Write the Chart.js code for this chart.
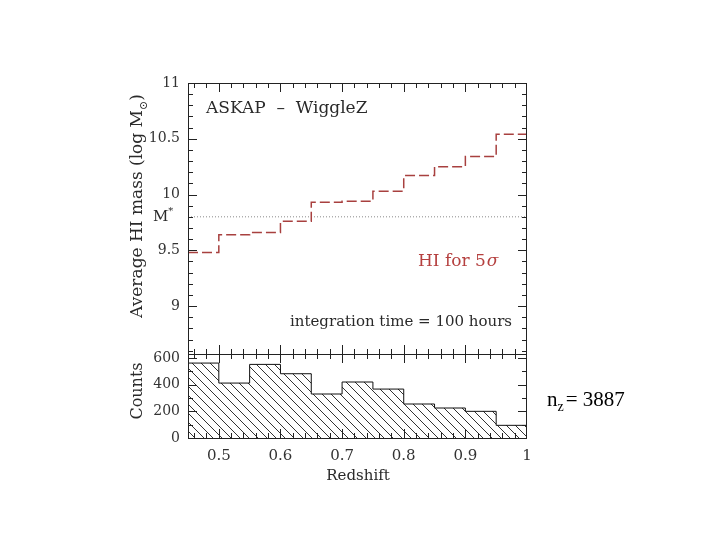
<!DOCTYPE html>
<html>
<head>
<meta charset="utf-8">
<script src="https://cdn.jsdelivr.net/npm/chart.js@4.4.1/dist/chart.umd.min.js"></script>
<style>
  body { margin: 0; background: #fff; }
  #wrap { position: relative; width: 720px; height: 540px; }
  #wrap canvas { position: absolute; left: 0; top: 0; }
</style>
</head>
<body>
<div id="wrap">
  <canvas id="massChart" width="720" height="540"></canvas>
  <canvas id="countChart" width="720" height="540"></canvas>
</div>
<script>
// redshift bin edges (11 bins of 0.05)
const binEdges = [0.45, 0.50, 0.55, 0.60, 0.65, 0.70, 0.75, 0.80, 0.85, 0.90, 0.95, 1.00];
// average HI mass detectable at 5 sigma, per bin (log Msun)
const hiMass = [9.48, 9.64, 9.66, 9.76, 9.93, 9.94, 10.03, 10.17, 10.25, 10.34, 10.54];
// galaxy counts per bin
const counts = [562, 412, 552, 482, 330, 420, 367, 255, 225, 200, 95];
const mStar = 9.8;
const massTicks = [9, 9.5, 10, 10.5, 11];
const countTicks = [0, 200, 400, 600];
const zTicks = [0.5, 0.6, 0.7, 0.8, 0.9, 1];

const SERIF = '"DejaVu Serif", serif';
const INK = '#2a2a2a';

// histogram steps: point i is the left edge of bin i, last edge closes the final bin
function stepPoints(values) {
    return binEdges.map((x, i) => ({ x: x, y: values[Math.min(i, values.length - 1)] }));
}

function makeHatch(ctx) {
    const s = 9;
    const c = document.createElement('canvas');
    c.width = s; c.height = s;
    const g = c.getContext('2d');
    g.strokeStyle = '#333';
    g.lineWidth = 1;
    g.beginPath();
    g.moveTo(-1, -1); g.lineTo(s + 1, s + 1);
    g.moveTo(-2, s - 2); g.lineTo(2, s + 2);
    g.moveTo(s - 2, -2); g.lineTo(s + 2, 2);
    g.stroke();
    return ctx.createPattern(c, 'repeat');
}

// frame + inward ticks on the panel
function drawFrame(chart, opt) {
    const { ctx, chartArea: a, scales } = chart;
    ctx.save();
    ctx.strokeStyle = '#222';
    ctx.lineWidth = 1;
    ctx.strokeRect(a.left + 0.5, a.top + 0.5, a.right - a.left - 1, a.bottom - a.top);
    ctx.beginPath();
    for (let t = 46; t < 100; t += 2) {
        const px = Math.round(scales.x.getPixelForValue(t / 100)) + 0.5;
        const len = t % 10 === 0 ? 9 : 5;
        if (opt.top) { ctx.moveTo(px, a.top); ctx.lineTo(px, a.top + len); }
        if (opt.bottom) { ctx.moveTo(px, a.bottom); ctx.lineTo(px, a.bottom - len); }
    }
    for (let t = opt.yFrom; t <= opt.yTo; t++) {
        const v = t * opt.yStep;
        if (v <= scales.y.min || v >= scales.y.max) continue;
        const py = Math.round(scales.y.getPixelForValue(v)) + 0.5;
        const len = t % opt.yMajorEvery === 0 ? 9 : 5;
        ctx.moveTo(a.left, py); ctx.lineTo(a.left + len, py);
        ctx.moveTo(a.right, py); ctx.lineTo(a.right - len, py);
    }
    ctx.stroke();
    ctx.restore();
}

function rotatedText(ctx, parts, cx, cy) {
    ctx.save();
    ctx.translate(cx, cy);
    ctx.rotate(-Math.PI / 2);
    ctx.textBaseline = 'middle';
    let total = 0;
    parts.forEach(p => { ctx.font = p.font; p.w = ctx.measureText(p.text).width; total += p.w; });
    let x = -total / 2;
    parts.forEach(p => { ctx.font = p.font; ctx.fillText(p.text, x, p.dy || 0); x += p.w; });
    ctx.restore();
}

function yScale(min, max, tickValues) {
    return {
        type: 'linear', min: min, max: max,
        afterFit: s => { s.width = 60; },
        afterBuildTicks: s => { s.ticks = tickValues.map(v => ({ value: v })); },
        grid: { display: false, drawTicks: false },
        border: { display: false },
        ticks: { padding: 8, color: '#333', font: { family: SERIF, size: 14 }, callback: v => String(v) }
    };
}

const massAnnotations = {
    id: 'massAnnotations',
    afterDraw(chart) {
        const ctx = chart.ctx;
        drawFrame(chart, { top: true, bottom: true, yFrom: 86, yTo: 110, yStep: 0.1, yMajorEvery: 5 });
        ctx.save();
        ctx.fillStyle = INK;
        ctx.textBaseline = 'middle';
        ctx.font = '17px ' + SERIF;
        ctx.fillText('ASKAP  \u2013  WiggleZ', 206, 109);
        ctx.font = '15px ' + SERIF;
        ctx.fillText('integration time = 100 hours', 290, 322);
        ctx.fillText('M', 153, 217);
        const mw = ctx.measureText('M').width;
        ctx.font = '10px ' + SERIF;
        ctx.fillText('*', 153 + mw, 211);
        ctx.fillStyle = '#b5403f';
        ctx.font = '17px ' + SERIF;
        ctx.fillText('HI for 5', 418, 262);
        const hw = ctx.measureText('HI for 5').width;
        ctx.font = 'italic 17px ' + SERIF;
        ctx.fillText('\u03c3', 418 + hw + 1, 262);
        ctx.fillStyle = INK;
        rotatedText(ctx, [
            { text: 'Average HI mass (log M', font: '17px ' + SERIF },
            { text: '\u2299', font: '11px ' + SERIF, dy: 6 },
            { text: ')', font: '17px ' + SERIF }
        ], 138, 206);
        ctx.restore();
    }
};

const countAnnotations = {
    id: 'countAnnotations',
    afterDraw(chart) {
        const ctx = chart.ctx;
        drawFrame(chart, { top: true, bottom: true, yFrom: 0, yTo: 6, yStep: 100, yMajorEvery: 2 });
        ctx.save();
        ctx.fillStyle = INK;
        ctx.textBaseline = 'middle';
        ctx.textAlign = 'center';
        ctx.font = '15px ' + SERIF;
        ctx.fillText('Redshift', 358, 476);
        ctx.textAlign = 'left';
        rotatedText(ctx, [{ text: 'Counts', font: '16px ' + SERIF }], 138, 391);
        ctx.fillStyle = '#000';
        ctx.textBaseline = 'alphabetic';
        ctx.font = '21px "Liberation Serif", serif';
        ctx.fillText('n', 547, 406);
        const nw = ctx.measureText('n').width;
        ctx.font = '14px "Liberation Serif", serif';
        ctx.fillText('z', 547 + nw, 411);
        const zw = ctx.measureText('z').width;
        ctx.font = '21px "Liberation Serif", serif';
        ctx.fillText('= 3887', 547 + nw + zw + 2, 406);
        ctx.restore();
    }
};

const baseOptions = {
    responsive: false,
    animation: false,
    plugins: { legend: { display: false }, tooltip: { enabled: false } }
};

new Chart(document.getElementById('massChart'), {
    type: 'line',
    data: {
        datasets: [
            {
                label: 'HI for 5 sigma',
                data: stepPoints(hiMass),
                stepped: 'before',
                borderColor: '#a8403f',
                borderWidth: 1.5,
                borderDash: [10, 4],
                pointRadius: 0,
                fill: false
            },
            {
                label: 'M*',
                data: [{ x: 0.45, y: mStar }, { x: 1, y: mStar }],
                borderColor: '#8a8a8a',
                borderWidth: 1,
                borderDash: [1, 2],
                pointRadius: 0,
                fill: false
            }
        ]
    },
    options: {
        ...baseOptions,
        layout: { padding: { left: 128, right: 193, top: 83, bottom: 186 } },
        scales: {
            x: { type: 'linear', min: 0.45, max: 1, display: false },
            y: yScale(8.57, 11, massTicks)
        }
    },
    plugins: [massAnnotations]
});

const countCanvas = document.getElementById('countChart');
new Chart(countCanvas, {
    type: 'line',
    data: {
        datasets: [{
            label: 'Counts',
            data: stepPoints(counts),
            stepped: 'before',
            borderColor: '#111',
            borderWidth: 1,
            backgroundColor: makeHatch(countCanvas.getContext('2d')),
            pointRadius: 0,
            fill: 'origin'
        }]
    },
    options: {
        ...baseOptions,
        layout: { padding: { left: 128, right: 193, top: 354, bottom: 62 } },
        scales: {
            x: {
                type: 'linear', min: 0.45, max: 1,
                afterFit: s => { s.height = 40; },
                afterBuildTicks: s => { s.ticks = zTicks.map(v => ({ value: v })); },
                grid: { display: false, drawTicks: false },
                border: { display: false },
                ticks: { padding: 9, autoSkip: false, maxRotation: 0, color: '#333', font: { family: SERIF, size: 15 }, callback: v => String(v) }
            },
            y: yScale(0, 630, countTicks)
        }
    },
    plugins: [countAnnotations]
});
</script>
</body>
</html>
